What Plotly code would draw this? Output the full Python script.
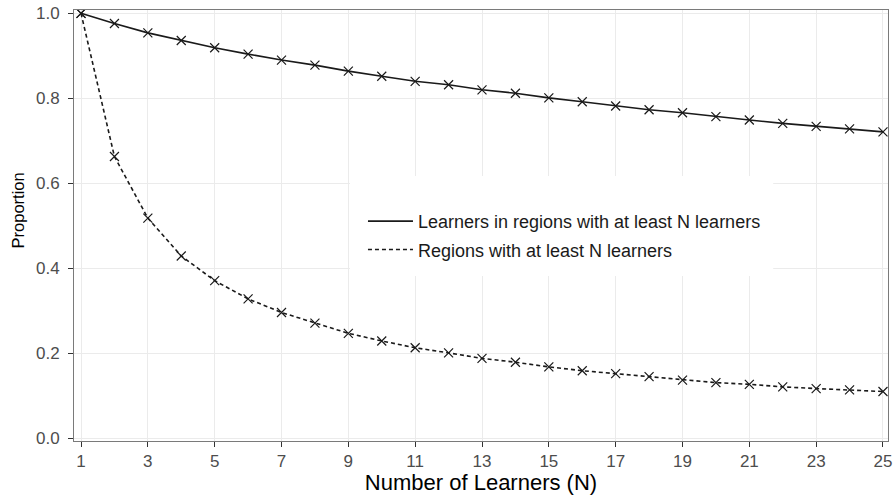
import plotly.graph_objects as go

n_learners = list(range(1, 26))
learners_share = [1.0, 0.976, 0.954, 0.936, 0.919, 0.904, 0.890, 0.878, 0.864, 0.852,
                  0.840, 0.832, 0.820, 0.812, 0.801, 0.792, 0.782, 0.773, 0.766, 0.757,
                  0.749, 0.741, 0.734, 0.728, 0.721]
regions_share = [1.0, 0.663, 0.518, 0.429, 0.371, 0.328, 0.296, 0.271, 0.247, 0.229,
                 0.213, 0.201, 0.188, 0.179, 0.168, 0.159, 0.152, 0.145, 0.137, 0.131,
                 0.127, 0.121, 0.117, 0.114, 0.110]
series_names = ["Learners in regions with at least N learners",
                "Regions with at least N learners"]
x_ticks = list(range(1, 26, 2))
y_ticks = [0.0, 0.2, 0.4, 0.6, 0.8, 1.0]

FONT = "Liberation Sans, Arial, sans-serif"
INK = "#1a1a1a"

fig = go.Figure()
for name, vals, dash, grp in [(series_names[0], learners_share, "solid", "a"),
                              (series_names[1], regions_share, "4px,3px", "b")]:
    fig.add_trace(go.Scatter(x=n_learners, y=vals, mode="lines", name=name,
                             legendgroup=grp,
                             line=dict(color=INK, width=1.6, dash=dash)))
    fig.add_trace(go.Scatter(x=n_learners, y=vals, mode="markers", showlegend=False,
                             legendgroup=grp,
                             marker=dict(symbol="x-thin-open", size=9, color=INK,
                                         line=dict(color=INK, width=1.2))))

# white legend background box
fig.add_shape(type="rect", xref="paper", yref="paper", layer="above",
              x0=0.339, x1=0.859, y0=0.383, y1=0.615,
              fillcolor="white", line=dict(width=0))

axis_common = dict(showgrid=True, gridcolor="#ebebeb", gridwidth=1,
                   showline=True, mirror=True, linecolor="#7a7a7a", linewidth=1,
                   ticks="outside", ticklen=5, tickwidth=1, tickcolor="#333333",
                   tickfont=dict(family=FONT, size=17, color="#4d4d4d"),
                   zeroline=False, automargin=False)

fig.update_xaxes(range=[0.79, 25.15], tickvals=x_ticks,
                 title=dict(text="Number of Learners (N)",
                            font=dict(family=FONT, size=22, color="#000000"), standoff=0),
                 **axis_common)
fig.update_yaxes(range=[-0.0064, 1.0078], tickvals=y_ticks,
                 ticktext=[f"{v:.1f}" for v in y_ticks],
                 ticklabelstandoff=5,
                 **axis_common)

# y-axis title placed as in the reference
fig.add_annotation(text="Proportion", xref="paper", yref="paper",
                   x=-0.0688, y=0.535, xanchor="center", yanchor="middle",
                   textangle=-90, showarrow=False,
                   font=dict(family=FONT, size=16.5, color="#000000"))

fig.update_layout(
    width=895, height=495,
    margin=dict(l=74, r=7, t=10, b=54),
    paper_bgcolor="white", plot_bgcolor="white",
    showlegend=True,
    legend=dict(x=0.355, y=0.477, xanchor="left", yanchor="middle",
                bgcolor="rgba(0,0,0,0)", borderwidth=0, itemwidth=45,
                traceorder="grouped", tracegroupgap=2,
                font=dict(family=FONT, size=18, color="#1a1a1a")),
)

fig.write_html("out.html", config={"displayModeBar": False},
               post_script="document.body.style.margin='0px';document.body.style.overflow='hidden';")
